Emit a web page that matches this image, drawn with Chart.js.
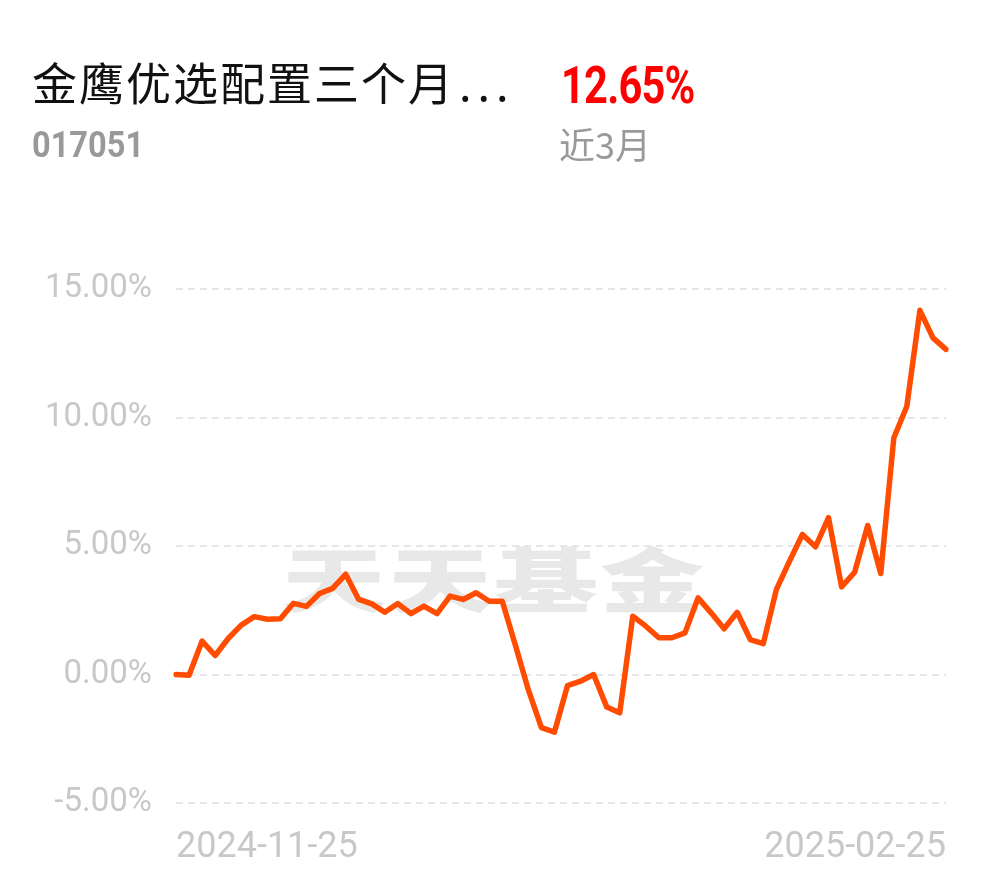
<!DOCTYPE html>
<html>
<head>
<meta charset="utf-8">
<script src="https://cdn.jsdelivr.net/npm/chart.js@4/dist/chart.umd.min.js"></script>
<style>
  html, body { margin:0; padding:0; background:#fff; width:990px; height:878px; overflow:hidden; }
  #wrap { position:relative; width:990px; height:878px; }
  #c { position:absolute; left:0; top:0; z-index:2; }
  .abs { position:absolute; white-space:nowrap; z-index:3; }
  #title { left:32px; top:52px; font-family:"Noto Sans CJK SC"; font-size:45px; line-height:60px; color:#111; letter-spacing:2px; }
  #title .dots { letter-spacing:6px; margin-left:4px; }
  #code { left:32px; top:123px; font-family:Roboto; font-weight:bold; font-size:37px; line-height:44px; color:#999; transform:scaleX(0.88); transform-origin:left center; }
  #ret { left:561px; top:56px; font-family:Roboto; font-weight:bold; font-size:52px; line-height:60px; color:#f00; transform:scaleX(0.8); transform-origin:left center; letter-spacing:-1px; }
  #period { left:559px; top:118px; font-family:"Noto Sans CJK SC"; font-size:36px; line-height:50px; color:#999; }
  #wm { position:absolute; z-index:1; left:494px; top:576px; transform:translate(-50%,-50%) scaleY(0.68); font-family:"Noto Sans CJK SC"; font-weight:900; font-size:104px; line-height:110px; color:#e8e8e8; letter-spacing:2px; white-space:nowrap; }
</style>
</head>
<body>
<div id="wrap">
  <div id="wm">天天基金</div>
  <canvas id="c" width="990" height="878"></canvas>
  <div class="abs" id="title">金鹰优选配置三个月<span class="dots">...</span></div>
  <div class="abs" id="code">017051</div>
  <div class="abs" id="ret">12.65%</div>
  <div class="abs" id="period">近3月</div>
</div>
<script>
const dates = [
  "2024-11-25","2024-11-26","2024-11-27","2024-11-28","2024-11-29",
  "2024-12-02","2024-12-03","2024-12-04","2024-12-05","2024-12-06",
  "2024-12-09","2024-12-10","2024-12-11","2024-12-12","2024-12-13",
  "2024-12-16","2024-12-17","2024-12-18","2024-12-19","2024-12-20",
  "2024-12-23","2024-12-24","2024-12-25","2024-12-26","2024-12-27",
  "2024-12-30","2024-12-31",
  "2025-01-02","2025-01-03","2025-01-06","2025-01-07","2025-01-08",
  "2025-01-09","2025-01-10","2025-01-13","2025-01-14","2025-01-15",
  "2025-01-16","2025-01-17","2025-01-20","2025-01-21","2025-01-22",
  "2025-01-23","2025-01-24","2025-01-27",
  "2025-02-05","2025-02-06","2025-02-07","2025-02-10","2025-02-11",
  "2025-02-12","2025-02-13","2025-02-14","2025-02-17","2025-02-18",
  "2025-02-19","2025-02-20","2025-02-21","2025-02-24","2025-02-25"
];
const returns = [
  0.00, -0.03, 1.30, 0.74, 1.40, 1.92, 2.25, 2.15, 2.17, 2.77,
  2.65, 3.15, 3.35, 3.90, 2.92, 2.75, 2.42, 2.76, 2.37, 2.66,
  2.37, 3.05, 2.92, 3.18, 2.85, 2.85, 1.15, -0.60, -2.07, -2.24,
  -0.43, -0.26, 0.00, -1.26, -1.49, 2.27, 1.88, 1.43, 1.43, 1.62,
  2.98, 2.40, 1.78, 2.42, 1.36, 1.20, 3.30, 4.40, 5.45, 4.97,
  6.10, 3.41, 3.98, 5.80, 3.93, 9.20, 10.44, 14.17, 13.10, 12.65
];
const yTicks = [-5, 0, 5, 10, 15];

new Chart(document.getElementById('c'), {
  type: 'line',
  data: {
    labels: dates,
    datasets: [{
      data: returns,
      borderColor: '#ff4c00',
      borderWidth: 5.5,
      borderJoinStyle: 'round',
      borderCapStyle: 'round',
      pointRadius: 0,
      pointHoverRadius: 0,
      tension: 0,
      fill: false
    }]
  },
  options: {
    responsive: false,
    animation: false,
    devicePixelRatio: 1,
    layout: { padding: { left: 0, right: 44, top: 289, bottom: 0 } },
    plugins: { legend: { display: false }, tooltip: { enabled: false } },
    scales: {
      x: {
        type: 'category',
        offset: false,
        grid: { display: false, drawTicks: false },
        border: { display: false },
        afterFit: s => { s.height = 75; },
        ticks: {
          autoSkip: false,
          maxRotation: 0,
          align: 'inner',
          padding: 23,
          color: '#c8c8c8',
          font: { family: 'Roboto', size: 36 },
          callback: function(v, i) {
            return (i === 0 || i === dates.length - 1) ? dates[i] : '';
          }
        }
      },
      y: {
        min: yTicks[0],
        max: yTicks[yTicks.length - 1],
        afterFit: s => { s.width = 176; },
        afterBuildTicks: s => { s.ticks = yTicks.map(v => ({ value: v })); },
        grid: { color: '#e6e6e6', lineWidth: 2, drawTicks: false },
        border: { display: false, dash: [7, 5] },
        ticks: {
          padding: 24,
          color: '#c8c8c8',
          font: { family: 'Roboto', size: 33 },
          callback: v => v.toFixed(2) + '%'
        }
      }
    }
  }
});
</script>
</body>
</html>
